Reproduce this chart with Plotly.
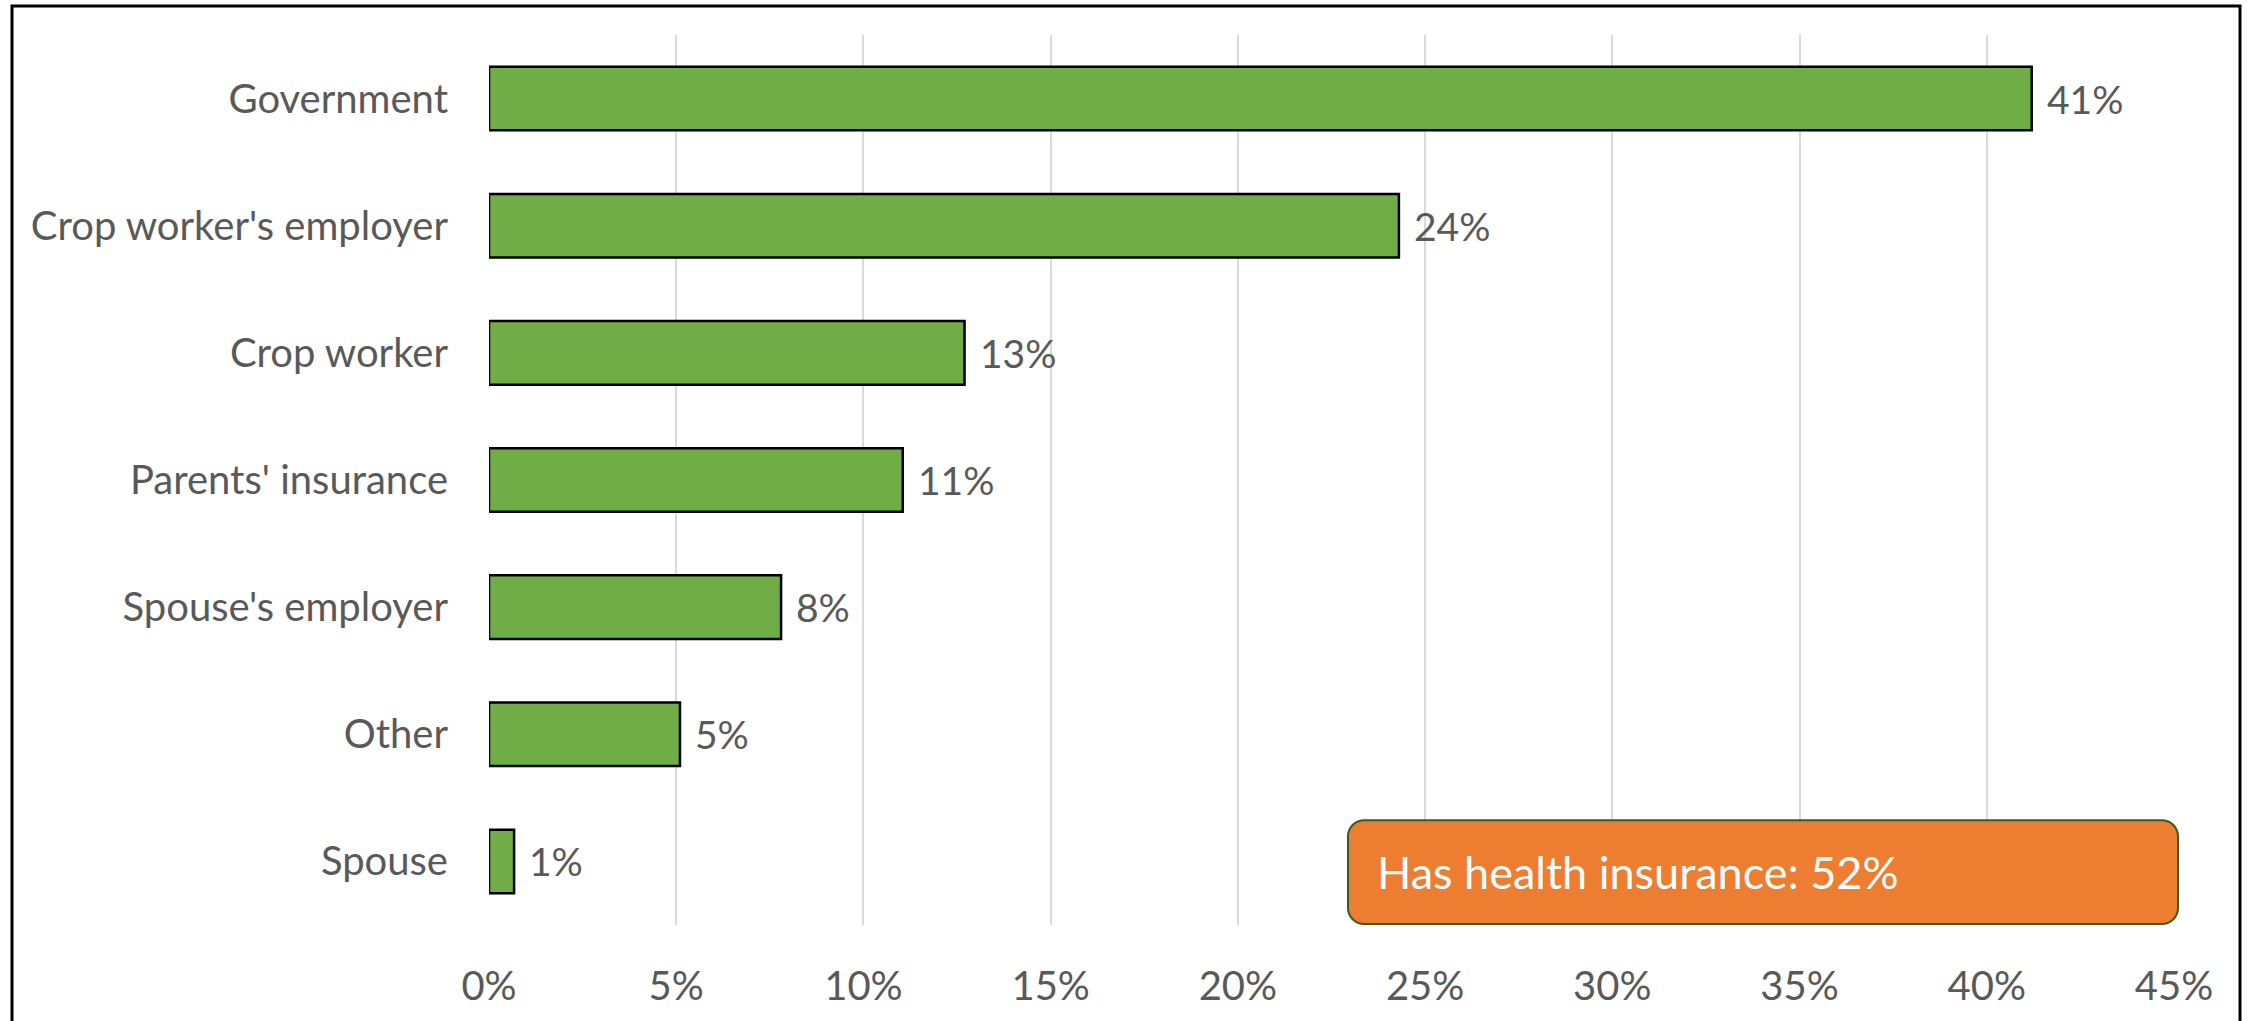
import plotly.graph_objects as go
import numpy as np

categories = ["Government", "Crop worker's employer", "Crop worker", "Parents' insurance",
              "Spouse's employer", "Other", "Spouse"]
values = [41.2, 24.3, 12.7, 11.05, 7.8, 5.1, 0.67]
labels = ["41%", "24%", "13%", "11%", "8%", "5%", "1%"]
tick_vals = [0, 5, 10, 15, 20, 25, 30, 35, 40, 45]
tick_text = ["0%", "5%", "10%", "15%", "20%", "25%", "30%", "35%", "40%", "45%"]
callout_text = "Has health insurance: 52%"

W, H = 2247, 1021
ML, MR, MT, MB = 489, 73, 35, 94
PW, PH = W - ML - MR, H - MT - MB

FONT = "Lato"
GRAY = "#595959"

fig = go.Figure()
fig.add_trace(go.Bar(
    y=categories, x=values, orientation="h",
    marker=dict(color="#70AD47", line=dict(color="#000000", width=2.5)),
    width=0.5, hoverinfo="skip",
))

for c, v, t in zip(categories, values, labels):
    fig.add_annotation(x=v, y=c, xref="x", yref="y", text=t, showarrow=False,
                       xanchor="left", yanchor="middle", xshift=13,
                       font=dict(family=FONT, size=39, color=GRAY))

# rounded callout box (paper coords from pixel geometry)
def px2paper(px, py):
    return (px - ML) / PW, (H - MB - py) / PH

bx0, by0, bx1, by1, r = 1348, 822, 2178, 926, 16
pts = []
def arc(cx, cy, a0, a1):
    for a in np.linspace(a0, a1, 10):
        pts.append((cx + r * np.cos(a), cy + r * np.sin(a)))
arc(bx1 - r, by0 + r, -np.pi / 2, 0)
arc(bx1 - r, by1 - r, 0, np.pi / 2)
arc(bx0 + r, by1 - r, np.pi / 2, np.pi)
arc(bx0 + r, by0 + r, np.pi, 1.5 * np.pi)
path = "M " + " L ".join(f"{px2paper(x, y)[0]:.5f},{px2paper(x, y)[1]:.5f}" for x, y in pts) + " Z"
fig.add_shape(type="path", path=path, xref="paper", yref="paper",
              fillcolor="#ED7D31", line=dict(color="#3A5A1E", width=2), layer="above")
tx, ty = px2paper(1375, (by0 + by1) / 2)
fig.add_annotation(x=tx, y=ty, xref="paper", yref="paper", text=callout_text,
                   showarrow=False, xanchor="left", yanchor="middle",
                   font=dict(family=FONT, size=45, color="#FFFFFF"))

# outer frame
fx0, fy0 = px2paper(12, 6)
fx1, fy1 = px2paper(2240, 1040)
fig.add_shape(type="path", xref="paper", yref="paper",
              path=f"M {fx0},{fy1} L {fx0},{fy0} L {fx1},{fy0} L {fx1},{fy1}",
              line=dict(color="#000000", width=3))

fig.update_layout(
    width=W, height=H,
    margin=dict(l=ML, r=MR, t=MT, b=MB),
    paper_bgcolor="white", plot_bgcolor="white",
    showlegend=False,
    font=dict(family=FONT, size=40, color=GRAY),
    xaxis=dict(range=[0, 45], tickvals=tick_vals, ticktext=tick_text,
               showgrid=True, gridcolor="#D9D9D9", gridwidth=2, zeroline=False,
               showline=False, ticks="", ticklabelstandoff=34,
               tickfont=dict(family=FONT, size=40, color=GRAY)),
    yaxis=dict(autorange="reversed", showgrid=False, zeroline=False, showline=False,
               ticks="", ticklabelstandoff=40,
               tickfont=dict(family=FONT, size=40, color=GRAY)),
    bargap=0.5,
)

fig.write_html("out.html", config={"displayModeBar": False},
               post_script="document.body.style.margin='0';document.body.style.overflow='hidden';")
